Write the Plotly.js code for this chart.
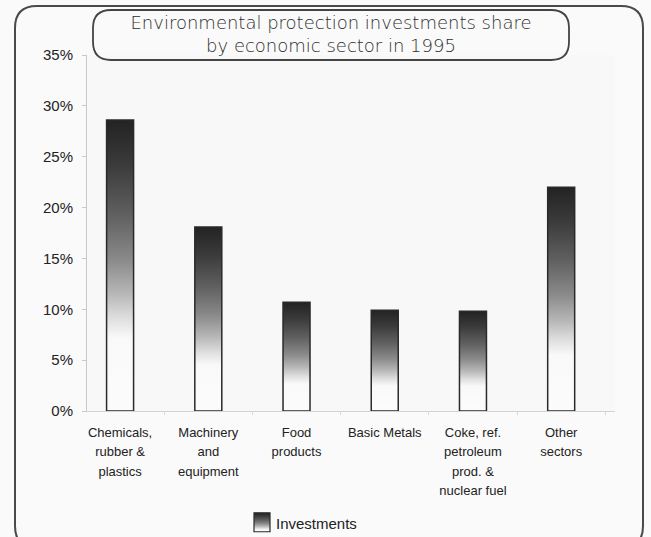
<!DOCTYPE html>
<html>
<head>
<meta charset="utf-8">
<script src="https://cdn.plot.ly/plotly-3.0.1.min.js"></script>
<style>html,body{margin:0;padding:0;background:#fafafa;}</style>
</head>
<body>
<div id="chart" style="width:651px;height:537px;"></div>
<script>
const categories = [
  "Chemicals,<br>rubber &<br>plastics",
  "Machinery<br>and<br>equipment",
  "Food<br>products",
  "Basic Metals",
  "Coke, ref.<br>petroleum<br>prod. &<br>nuclear fuel",
  "Other<br>sectors"
];
const investments = [28.6, 18.1, 10.7, 9.9, 9.8, 22.0];
const seriesName = "Investments";
const chartTitle = "Environmental protection investments share<br>by economic sector in 1995";

// plot area in pixels (for decorative frame conversion)
const L = 87, R = 615, T = 55, B = 411;
const W = R - L, H = B - T;
const px = x => (x - L) / W;
const py = y => (B - y) / H;
function roundRect(x0, y0, x1, y1, r) {
  const p = [
    `M ${px(x0 + r)} ${py(y0)}`,
    `L ${px(x1 - r)} ${py(y0)}`,
    `Q ${px(x1)} ${py(y0)} ${px(x1)} ${py(y0 + r)}`,
    `L ${px(x1)} ${py(y1 - r)}`,
    `Q ${px(x1)} ${py(y1)} ${px(x1 - r)} ${py(y1)}`,
    `L ${px(x0 + r)} ${py(y1)}`,
    `Q ${px(x0)} ${py(y1)} ${px(x0)} ${py(y1 - r)}`,
    `L ${px(x0)} ${py(y0 + r)}`,
    `Q ${px(x0)} ${py(y0)} ${px(x0 + r)} ${py(y0)}`,
    'Z'
  ];
  return p.join(' ');
}

const trace = {
  type: 'bar',
  x: categories,
  y: investments,
  name: seriesName,
  showlegend: true,
  marker: { color: '#777777', line: { color: '#2a2a2a', width: 1.5 } },
  hoverinfo: 'none'
};

const layout = {
  width: 651, height: 537,
  margin: { l: L, r: 651 - R, t: T, b: 537 - B, pad: 0, autoexpand: false },
  paper_bgcolor: '#fafafa',
  plot_bgcolor: '#f8f8f8',
  font: { family: 'Liberation Sans, Arial, sans-serif', color: '#222', size: 13 },
  title: {
    text: chartTitle,
    font: { family: 'DejaVu Sans, sans-serif', size: 18, color: '#2e2e2e', weight: 300 },
    xref: 'paper', x: px(331), xanchor: 'center',
    yref: 'container', y: 1 - 29 / 537, yanchor: 'middle'
  },
  bargap: 0.694,
  xaxis: {
    type: 'category',
    range: [-0.375, 5.61],
    automargin: false,
    showline: true, linecolor: '#d2d2d2', linewidth: 1,
    ticks: 'outside', tickson: 'boundaries', ticklen: 3, tickcolor: '#d8d8d8',
    ticklabelstandoff: 9,
    tickfont: { size: 13, color: '#222' },
    showgrid: false, zeroline: false, fixedrange: true
  },
  yaxis: {
    range: [0, 35], dtick: 5, ticksuffix: '%',
    automargin: false,
    showline: true, linecolor: '#c8c8c8', linewidth: 1,
    ticks: 'outside', ticklen: 4, tickcolor: '#c8c8c8',
    ticklabelstandoff: 6,
    tickfont: { size: 15, color: '#222' },
    showgrid: false, zeroline: false, fixedrange: true
  },
  showlegend: true,
  legend: {
    orientation: 'h', x: px(236), xanchor: 'left', y: py(523), yanchor: 'middle',
    font: { size: 15, color: '#222' }, bgcolor: 'rgba(0,0,0,0)'
  },
  shapes: [
    { type: 'path', xref: 'paper', yref: 'paper', path: roundRect(15, 6, 643, 548, 22),
      line: { color: '#4a4a4a', width: 2 }, fillcolor: 'rgba(0,0,0,0)', layer: 'above' },
    { type: 'path', xref: 'paper', yref: 'paper', path: roundRect(93, 10, 569, 60, 18),
      line: { color: '#444', width: 1.8 }, fillcolor: 'rgba(0,0,0,0)', layer: 'below' }
  ]
};

Plotly.newPlot('chart', [trace], layout, { displayModeBar: false, staticPlot: true }).then(gd => {
  const svg = gd.querySelector('.main-svg');
  const ns = 'http://www.w3.org/2000/svg';
  let defs = svg.querySelector('defs');
  if (!defs) { defs = document.createElementNS(ns, 'defs'); svg.insertBefore(defs, svg.firstChild); }
  const grad = document.createElementNS(ns, 'linearGradient');
  grad.setAttribute('id', 'barGrad');
  grad.setAttribute('x1', '0'); grad.setAttribute('y1', '0');
  grad.setAttribute('x2', '0'); grad.setAttribute('y2', '1');
  const stops = [[0, '#232323'], [0.15, '#3a3a3a'], [0.33, '#616161'], [0.48, '#8a8a8a'],
                 [0.6, '#b8b8b8'], [0.68, '#dedede'], [0.75, '#f9f9f9'], [1, '#fcfcfc']];
  stops.forEach(([o, c]) => {
    const s = document.createElementNS(ns, 'stop');
    s.setAttribute('offset', o); s.setAttribute('stop-color', c);
    grad.appendChild(s);
  });
  defs.appendChild(grad);
  const lgrad = grad.cloneNode(true);
  lgrad.setAttribute('id', 'legGrad');
  lgrad.querySelectorAll('stop').forEach((s, i) => {
    s.setAttribute('offset', Math.min(1, stops[i][0] * 1.2));
  });
  defs.appendChild(lgrad);
  gd.querySelectorAll('.bars .point path').forEach(p => { p.style.fill = 'url(#barGrad)'; });
  // wider line spacing for the multi-line category labels (Plotly uses cumulative dy = i*1.3em)
  gd.querySelectorAll('.xtick text tspan.line').forEach(t => {
    const dy = parseFloat(t.getAttribute('dy') || '0');
    if (dy > 0) t.setAttribute('dy', (dy / 1.3 * 1.5) + 'em');
  });
  gd.querySelectorAll('svg').forEach(sv => {
    sv.querySelectorAll('.legendpoints path').forEach(p => {
      p.style.fill = 'url(#legGrad)';
      p.style.strokeWidth = '1.2px';
      p.setAttribute('d', 'M8,9H-8V-10H8Z');
      p.setAttribute('transform', 'translate(26,0)');
    });
  });
});
</script>
</body>
</html>
